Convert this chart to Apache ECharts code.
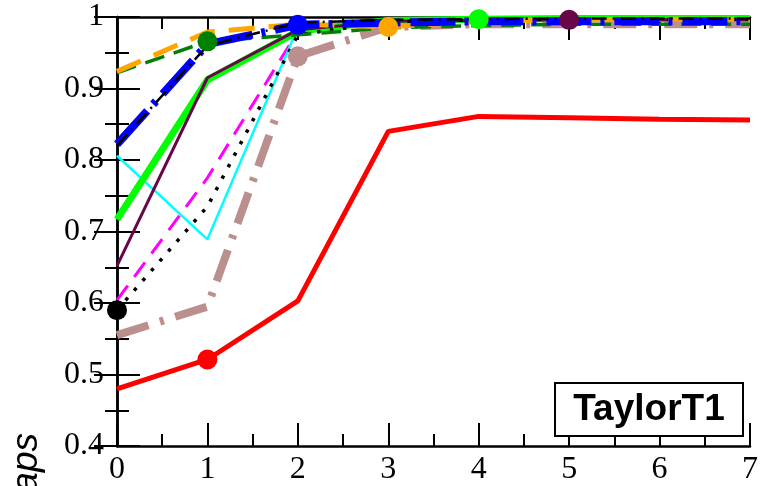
<!DOCTYPE html>
<html>
<head>
<meta charset="utf-8">
<script src="https://cdn.jsdelivr.net/npm/echarts@6/dist/echarts.min.js"></script>
<style>
  html, body { margin: 0; padding: 0; background: #fff; }
  #chart { width: 761px; height: 486px; }
</style>
</head>
<body>
<div id="chart"></div>
<script>
// x positions (0..7) and the curves
const xs = [0, 1, 2, 3, 4, 5, 6, 7];
const redLine = [0.48, 0.521, 0.603, 0.84, 0.861, 0.859, 0.857, 0.856];
const blackDotted = [0.59, 0.735, 0.975, 0.993, 0.996, 0.997, 0.997, 0.997];
const darkGreenDashed = [0.922, 0.966, 0.975, 0.985, 0.988, 0.99, 0.99, 0.99];
const blueDashDot = [0.822, 0.962, 0.989, 0.992, 0.994, 0.994, 0.994, 0.994];
const brownDashDot = [0.555, 0.595, 0.945, 0.986, 0.99, 0.99, 0.99, 0.99];
const orangeDashed = [0.924, 0.979, 0.99, 0.986, 0.994, 0.996, 0.997, 0.997];
const greenLine = [0.717, 0.912, 0.98, 0.995, 0.997, 0.998, 0.998, 0.998];
const maroonLine = [0.652, 0.915, 0.982, 0.994, 0.995, 0.996, 0.996, 0.996];
const cyanLine = [0.806, 0.689, 0.985, 0.995, 0.997, 0.998, 0.999, 0.999];
const magentaDashed = [0.604, 0.775, 0.98, 0.995, 0.998, 0.998, 0.998, 0.998];
const blackDashDot = [0.82, 0.96, 0.992, 0.996, 0.997, 0.998, 0.998, 0.998];
const yTicks = [0.4, 0.5, 0.6, 0.7, 0.8, 0.9, 1];

const chart = echarts.init(document.getElementById("chart"));

function mkSeries(vals, color, width, dash, markAt) {
  return {
    type: "line",
    symbol: "none",
    clip: false,
    animation: false,
    lineStyle: { color: color, width: width, type: dash || "solid", cap: "butt" },
    itemStyle: { color: color },
    data: vals.map((v, i) =>
      i === markAt ? { value: [xs[i], v], symbol: "circle", symbolSize: 20 } : [xs[i], v]
    ),
  };
}

const serif = "Liberation Serif";
const axisBase = {
  min: 0,
  axisLine: { lineStyle: { color: "#000", width: 2.5 } },
  axisTick: { inside: true, length: 23, lineStyle: { color: "#000", width: 2 } },
  minorTick: { show: true, splitNumber: 2, length: 12, lineStyle: { color: "#000", width: 2 } },
  splitLine: { show: false },
};

const option = {
  animation: false,
  grid: { left: 117, top: 17, width: 638.5, height: 430.5 },
  xAxis: [
    Object.assign({}, axisBase, {
      type: "value", max: 7, interval: 1, position: "bottom",
      axisLabel: { color: "#000", fontFamily: serif, fontSize: 32, margin: 8 },
    }),
    Object.assign({}, axisBase, {
      type: "value", max: 7, interval: 1, position: "top",
      axisLabel: { show: false },
    }),
  ],
  yAxis: [
    Object.assign({}, axisBase, {
      type: "value", min: 0.4, max: 1, interval: 0.1, position: "left",
      axisLabel: {
        color: "#000", fontFamily: serif, fontSize: 32, margin: 13,
        formatter: (v) => String(yTicks.find((t) => Math.abs(t - v) < 1e-6) ?? v),
      },
    }),
    Object.assign({}, axisBase, {
      type: "value", min: 0.4, max: 1, interval: 0.1, position: "right",
      axisLabel: { show: false },
    }),
  ],
  series: [
    mkSeries(brownDashDot, "#bc8f8f", 8, [33, 12, 4, 12], 2),
    mkSeries(magentaDashed, "#ff00ff", 3, [18, 11]),
    mkSeries(cyanLine, "#00ffff", 2.5),
    mkSeries(greenLine, "#00ff00", 7, null, 4),
    mkSeries(maroonLine, "#670748", 3, null, 5),
    mkSeries(blackDotted, "#000000", 3.5, [3.5, 9.5], 0),
    mkSeries(darkGreenDashed, "#008000", 3.5, [20, 10], 1),
    mkSeries(orangeDashed, "#ffa500", 5, [26, 14], 3),
    mkSeries(blueDashDot, "#0000ff", 8, [45, 9, 4, 10], 2),
    mkSeries(blackDashDot, "#000000", 2.5, [15, 6, 2, 6]),
    mkSeries(redLine, "#ff0000", 5, null, 1),
  ],
  graphic: [
    {
      type: "rect",
      shape: { x: 555, y: 383, width: 188, height: 53 },
      style: { fill: "#fff", stroke: "#000", lineWidth: 2 },
      z: 100,
    },
    {
      type: "text",
      x: 649, y: 410,
      style: {
        text: "TaylorT1", fill: "#000",
        font: "bold 37px 'Liberation Sans'",
        textAlign: "center", textVerticalAlign: "middle",
      },
      z: 101,
    },
    {
      type: "text",
      x: 45, y: 433,
      rotation: Math.PI / 2,
      style: {
        text: "Overlaps", fill: "#000",
        font: "italic 37px 'Liberation Sans'",
        textAlign: "right", textVerticalAlign: "bottom",
      },
      z: 101,
    },
  ],
};

chart.setOption(option);
window.addEventListener("resize", chart.resize);
</script>
</body>
</html>
